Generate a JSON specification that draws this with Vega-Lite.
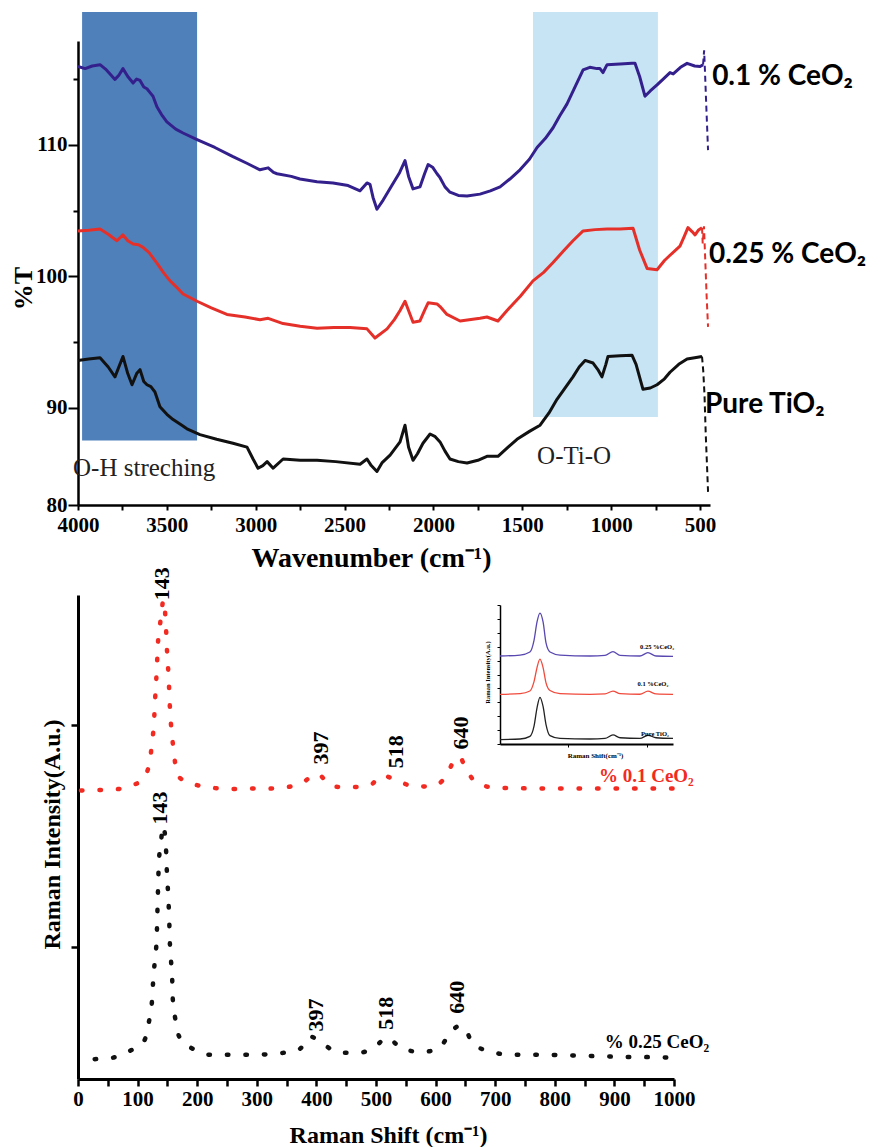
{
  "$schema": "https://vega.github.io/schema/vega-lite/v6.json",
  "padding": {"left": 10, "top": 12, "right": 0, "bottom": 0},
  "background": "white",
  "config": {
    "view": {"stroke": null},
    "axis": {"grid": false, "domainColor": "#000", "tickColor": "#000", "labelColor": "#000", "titleColor": "#000", "labelFont": "Liberation Serif", "titleFont": "Liberation Serif", "labelFontWeight": "bold", "titleFontWeight": "bold", "labelOverlap": false, "labelFlush": false},
    "text": {"font": "Liberation Serif"}
  },
  "datasets": {
    "bands": [
      {"x": 3977, "x2": 3330, "y": 87.5, "y2": 120.1, "band": "OH"},
      {"x": 1440, "x2": 737, "y": 89.3, "y2": 120.1, "band": "OTiO"}
    ],
    "ftir": [
      {"s": "0.1", "x": 4000, "y": 115.96}, {"s": "0.1", "x": 3960, "y": 115.8}, {"s": "0.1", "x": 3920, "y": 116.0}, {"s": "0.1", "x": 3876, "y": 116.1}, {"s": "0.1", "x": 3840, "y": 115.7}, {"s": "0.1", "x": 3792, "y": 114.98}, {"s": "0.1", "x": 3770, "y": 115.3}, {"s": "0.1", "x": 3747, "y": 115.8}, {"s": "0.1", "x": 3720, "y": 115.2}, {"s": "0.1", "x": 3690, "y": 114.7}, {"s": "0.1", "x": 3670, "y": 115.0}, {"s": "0.1", "x": 3651, "y": 114.9}, {"s": "0.1", "x": 3630, "y": 114.4}, {"s": "0.1", "x": 3612, "y": 114.27}, {"s": "0.1", "x": 3590, "y": 113.9}, {"s": "0.1", "x": 3578, "y": 113.7}, {"s": "0.1", "x": 3556, "y": 112.9}, {"s": "0.1", "x": 3530, "y": 112.3}, {"s": "0.1", "x": 3500, "y": 111.75}, {"s": "0.1", "x": 3450, "y": 111.2}, {"s": "0.1", "x": 3409, "y": 110.9}, {"s": "0.1", "x": 3330, "y": 110.4}, {"s": "0.1", "x": 3230, "y": 109.8}, {"s": "0.1", "x": 3128, "y": 109.1}, {"s": "0.1", "x": 3050, "y": 108.6}, {"s": "0.1", "x": 2976, "y": 108.1}, {"s": "0.1", "x": 2930, "y": 108.25}, {"s": "0.1", "x": 2900, "y": 107.9}, {"s": "0.1", "x": 2880, "y": 107.8}, {"s": "0.1", "x": 2800, "y": 107.6}, {"s": "0.1", "x": 2751, "y": 107.4}, {"s": "0.1", "x": 2655, "y": 107.2}, {"s": "0.1", "x": 2565, "y": 107.1}, {"s": "0.1", "x": 2480, "y": 106.9}, {"s": "0.1", "x": 2413, "y": 106.5}, {"s": "0.1", "x": 2374, "y": 107.1}, {"s": "0.1", "x": 2357, "y": 107.0}, {"s": "0.1", "x": 2340, "y": 106.0}, {"s": "0.1", "x": 2318, "y": 105.1}, {"s": "0.1", "x": 2283, "y": 105.8}, {"s": "0.1", "x": 2230, "y": 107.0}, {"s": "0.1", "x": 2190, "y": 107.9}, {"s": "0.1", "x": 2160, "y": 108.8}, {"s": "0.1", "x": 2140, "y": 107.6}, {"s": "0.1", "x": 2115, "y": 106.65}, {"s": "0.1", "x": 2076, "y": 106.8}, {"s": "0.1", "x": 2050, "y": 107.8}, {"s": "0.1", "x": 2030, "y": 108.5}, {"s": "0.1", "x": 2005, "y": 108.3}, {"s": "0.1", "x": 1980, "y": 107.8}, {"s": "0.1", "x": 1963, "y": 107.5}, {"s": "0.1", "x": 1935, "y": 106.8}, {"s": "0.1", "x": 1907, "y": 106.4}, {"s": "0.1", "x": 1860, "y": 106.15}, {"s": "0.1", "x": 1811, "y": 106.1}, {"s": "0.1", "x": 1738, "y": 106.25}, {"s": "0.1", "x": 1680, "y": 106.5}, {"s": "0.1", "x": 1625, "y": 106.8}, {"s": "0.1", "x": 1570, "y": 107.4}, {"s": "0.1", "x": 1513, "y": 108.1}, {"s": "0.1", "x": 1460, "y": 108.9}, {"s": "0.1", "x": 1417, "y": 109.8}, {"s": "0.1", "x": 1370, "y": 110.5}, {"s": "0.1", "x": 1327, "y": 111.3}, {"s": "0.1", "x": 1290, "y": 112.2}, {"s": "0.1", "x": 1249, "y": 113.1}, {"s": "0.1", "x": 1200, "y": 114.5}, {"s": "0.1", "x": 1158, "y": 115.7}, {"s": "0.1", "x": 1120, "y": 115.9}, {"s": "0.1", "x": 1080, "y": 115.8}, {"s": "0.1", "x": 1063, "y": 115.8}, {"s": "0.1", "x": 1046, "y": 115.5}, {"s": "0.1", "x": 1023, "y": 116.1}, {"s": "0.1", "x": 950, "y": 116.15}, {"s": "0.1", "x": 883, "y": 116.2}, {"s": "0.1", "x": 866, "y": 116.2}, {"s": "0.1", "x": 840, "y": 115.2}, {"s": "0.1", "x": 810, "y": 113.7}, {"s": "0.1", "x": 780, "y": 114.1}, {"s": "0.1", "x": 742, "y": 114.56}, {"s": "0.1", "x": 700, "y": 115.1}, {"s": "0.1", "x": 669, "y": 115.5}, {"s": "0.1", "x": 651, "y": 115.4}, {"s": "0.1", "x": 610, "y": 115.9}, {"s": "0.1", "x": 573, "y": 116.2}, {"s": "0.1", "x": 530, "y": 116.0}, {"s": "0.1", "x": 500, "y": 115.96}, {"s": "0.1", "x": 483, "y": 116.1},
      {"s": "0.25", "x": 4000, "y": 103.45}, {"s": "0.25", "x": 3940, "y": 103.5}, {"s": "0.25", "x": 3876, "y": 103.6}, {"s": "0.25", "x": 3830, "y": 103.2}, {"s": "0.25", "x": 3781, "y": 102.7}, {"s": "0.25", "x": 3747, "y": 103.15}, {"s": "0.25", "x": 3720, "y": 102.7}, {"s": "0.25", "x": 3690, "y": 102.45}, {"s": "0.25", "x": 3660, "y": 102.4}, {"s": "0.25", "x": 3634, "y": 102.2}, {"s": "0.25", "x": 3600, "y": 101.8}, {"s": "0.25", "x": 3556, "y": 101.0}, {"s": "0.25", "x": 3520, "y": 100.3}, {"s": "0.25", "x": 3482, "y": 99.65}, {"s": "0.25", "x": 3440, "y": 99.1}, {"s": "0.25", "x": 3409, "y": 98.65}, {"s": "0.25", "x": 3330, "y": 98.1}, {"s": "0.25", "x": 3250, "y": 97.6}, {"s": "0.25", "x": 3162, "y": 97.1}, {"s": "0.25", "x": 3060, "y": 96.9}, {"s": "0.25", "x": 2976, "y": 96.7}, {"s": "0.25", "x": 2930, "y": 96.8}, {"s": "0.25", "x": 2846, "y": 96.4}, {"s": "0.25", "x": 2750, "y": 96.2}, {"s": "0.25", "x": 2655, "y": 96.05}, {"s": "0.25", "x": 2560, "y": 96.1}, {"s": "0.25", "x": 2469, "y": 96.1}, {"s": "0.25", "x": 2374, "y": 96.0}, {"s": "0.25", "x": 2329, "y": 95.3}, {"s": "0.25", "x": 2261, "y": 96.0}, {"s": "0.25", "x": 2220, "y": 96.7}, {"s": "0.25", "x": 2188, "y": 97.4}, {"s": "0.25", "x": 2160, "y": 98.1}, {"s": "0.25", "x": 2115, "y": 96.5}, {"s": "0.25", "x": 2076, "y": 96.6}, {"s": "0.25", "x": 2050, "y": 97.4}, {"s": "0.25", "x": 2030, "y": 97.98}, {"s": "0.25", "x": 1980, "y": 97.9}, {"s": "0.25", "x": 1963, "y": 97.7}, {"s": "0.25", "x": 1924, "y": 97.1}, {"s": "0.25", "x": 1850, "y": 96.6}, {"s": "0.25", "x": 1738, "y": 96.8}, {"s": "0.25", "x": 1699, "y": 96.9}, {"s": "0.25", "x": 1637, "y": 96.6}, {"s": "0.25", "x": 1586, "y": 97.4}, {"s": "0.25", "x": 1510, "y": 98.5}, {"s": "0.25", "x": 1440, "y": 99.65}, {"s": "0.25", "x": 1380, "y": 100.3}, {"s": "0.25", "x": 1327, "y": 101.05}, {"s": "0.25", "x": 1270, "y": 101.9}, {"s": "0.25", "x": 1215, "y": 102.7}, {"s": "0.25", "x": 1158, "y": 103.45}, {"s": "0.25", "x": 1090, "y": 103.55}, {"s": "0.25", "x": 1023, "y": 103.6}, {"s": "0.25", "x": 950, "y": 103.6}, {"s": "0.25", "x": 877, "y": 103.65}, {"s": "0.25", "x": 840, "y": 102.0}, {"s": "0.25", "x": 798, "y": 100.6}, {"s": "0.25", "x": 742, "y": 100.5}, {"s": "0.25", "x": 700, "y": 101.2}, {"s": "0.25", "x": 669, "y": 101.6}, {"s": "0.25", "x": 613, "y": 102.3}, {"s": "0.25", "x": 590, "y": 103.0}, {"s": "0.25", "x": 568, "y": 103.7}, {"s": "0.25", "x": 545, "y": 103.4}, {"s": "0.25", "x": 528, "y": 103.15}, {"s": "0.25", "x": 510, "y": 103.5}, {"s": "0.25", "x": 489, "y": 103.7},
      {"s": "pure", "x": 4000, "y": 93.6}, {"s": "pure", "x": 3940, "y": 93.7}, {"s": "pure", "x": 3876, "y": 93.8}, {"s": "pure", "x": 3830, "y": 93.1}, {"s": "pure", "x": 3792, "y": 92.35}, {"s": "pure", "x": 3747, "y": 93.9}, {"s": "pure", "x": 3720, "y": 92.6}, {"s": "pure", "x": 3696, "y": 91.75}, {"s": "pure", "x": 3670, "y": 92.6}, {"s": "pure", "x": 3651, "y": 92.9}, {"s": "pure", "x": 3630, "y": 92.0}, {"s": "pure", "x": 3612, "y": 91.75}, {"s": "pure", "x": 3590, "y": 91.6}, {"s": "pure", "x": 3567, "y": 91.2}, {"s": "pure", "x": 3539, "y": 90.08}, {"s": "pure", "x": 3500, "y": 89.5}, {"s": "pure", "x": 3465, "y": 89.1}, {"s": "pure", "x": 3420, "y": 88.7}, {"s": "pure", "x": 3387, "y": 88.4}, {"s": "pure", "x": 3314, "y": 87.95}, {"s": "pure", "x": 3220, "y": 87.6}, {"s": "pure", "x": 3128, "y": 87.3}, {"s": "pure", "x": 3049, "y": 87.0}, {"s": "pure", "x": 3015, "y": 86.1}, {"s": "pure", "x": 2987, "y": 85.4}, {"s": "pure", "x": 2960, "y": 85.6}, {"s": "pure", "x": 2936, "y": 85.9}, {"s": "pure", "x": 2902, "y": 85.4}, {"s": "pure", "x": 2846, "y": 86.1}, {"s": "pure", "x": 2750, "y": 86.0}, {"s": "pure", "x": 2655, "y": 86.0}, {"s": "pure", "x": 2550, "y": 85.9}, {"s": "pure", "x": 2413, "y": 85.7}, {"s": "pure", "x": 2374, "y": 86.1}, {"s": "pure", "x": 2350, "y": 85.6}, {"s": "pure", "x": 2318, "y": 85.15}, {"s": "pure", "x": 2290, "y": 85.8}, {"s": "pure", "x": 2244, "y": 86.4}, {"s": "pure", "x": 2188, "y": 87.4}, {"s": "pure", "x": 2160, "y": 88.67}, {"s": "pure", "x": 2140, "y": 87.0}, {"s": "pure", "x": 2115, "y": 86.0}, {"s": "pure", "x": 2090, "y": 86.5}, {"s": "pure", "x": 2059, "y": 87.3}, {"s": "pure", "x": 2019, "y": 88.0}, {"s": "pure", "x": 1990, "y": 87.8}, {"s": "pure", "x": 1963, "y": 87.4}, {"s": "pure", "x": 1935, "y": 86.7}, {"s": "pure", "x": 1907, "y": 86.1}, {"s": "pure", "x": 1860, "y": 85.9}, {"s": "pure", "x": 1811, "y": 85.8}, {"s": "pure", "x": 1750, "y": 86.0}, {"s": "pure", "x": 1699, "y": 86.3}, {"s": "pure", "x": 1637, "y": 86.3}, {"s": "pure", "x": 1580, "y": 87.0}, {"s": "pure", "x": 1530, "y": 87.6}, {"s": "pure", "x": 1460, "y": 88.2}, {"s": "pure", "x": 1400, "y": 88.67}, {"s": "pure", "x": 1350, "y": 89.6}, {"s": "pure", "x": 1305, "y": 90.64}, {"s": "pure", "x": 1260, "y": 91.5}, {"s": "pure", "x": 1215, "y": 92.35}, {"s": "pure", "x": 1180, "y": 93.1}, {"s": "pure", "x": 1147, "y": 93.6}, {"s": "pure", "x": 1102, "y": 93.4}, {"s": "pure", "x": 1075, "y": 92.9}, {"s": "pure", "x": 1052, "y": 92.35}, {"s": "pure", "x": 1030, "y": 93.3}, {"s": "pure", "x": 1018, "y": 93.9}, {"s": "pure", "x": 950, "y": 93.95}, {"s": "pure", "x": 883, "y": 94.0}, {"s": "pure", "x": 860, "y": 93.3}, {"s": "pure", "x": 821, "y": 91.4}, {"s": "pure", "x": 780, "y": 91.5}, {"s": "pure", "x": 742, "y": 91.75}, {"s": "pure", "x": 700, "y": 92.2}, {"s": "pure", "x": 669, "y": 92.7}, {"s": "pure", "x": 620, "y": 93.3}, {"s": "pure", "x": 573, "y": 93.7}, {"s": "pure", "x": 530, "y": 93.8}, {"s": "pure", "x": 489, "y": 93.9}
    ],
    "ftirEnd": [
      {"s": "0.1", "x": 483, "y": 116.1}, {"s": "0.1", "x": 477, "y": 117.2}, {"s": "0.1", "x": 472, "y": 115.5}, {"s": "0.1", "x": 465, "y": 113.0}, {"s": "0.1", "x": 455, "y": 109.6},
      {"s": "0.25", "x": 489, "y": 103.7}, {"s": "0.25", "x": 485, "y": 102.5}, {"s": "0.25", "x": 478, "y": 103.8}, {"s": "0.25", "x": 470, "y": 101.0}, {"s": "0.25", "x": 463, "y": 98.5}, {"s": "0.25", "x": 455, "y": 96.15},
      {"s": "pure", "x": 489, "y": 93.9}, {"s": "pure", "x": 482, "y": 92.8}, {"s": "pure", "x": 475, "y": 91.0}, {"s": "pure", "x": 468, "y": 88.0}, {"s": "pure", "x": 462, "y": 86.0}, {"s": "pure", "x": 455, "y": 83.6}
    ],
    "ftirLabels": [
      {"x": 432, "y": 115.17, "t": "0.1 % CeO₂", "kind": "series"},
      {"x": 449, "y": 101.6, "t": "0.25 % CeO₂", "kind": "series"},
      {"x": 472, "y": 90.2, "t": "Pure TiO₂", "kind": "series"},
      {"x": 4028, "y": 85.4, "t": "O-H streching", "kind": "band"},
      {"x": 1417, "y": 86.35, "t": "O-Ti-O", "kind": "band"}
    ],
    "raman": [
      {"s": "0.1", "x": 5, "y": 59.6}, {"s": "0.1", "x": 28, "y": 59.7}, {"s": "0.1", "x": 58, "y": 59.8}, {"s": "0.1", "x": 87, "y": 60.5}, {"s": "0.1", "x": 109, "y": 62.0}, {"s": "0.1", "x": 121, "y": 65.9}, {"s": "0.1", "x": 124, "y": 69.6}, {"s": "0.1", "x": 127.5, "y": 73.6}, {"s": "0.1", "x": 129, "y": 77.7}, {"s": "0.1", "x": 131, "y": 81.8}, {"s": "0.1", "x": 132.5, "y": 85.5}, {"s": "0.1", "x": 134, "y": 89.7}, {"s": "0.1", "x": 137.6, "y": 93.8}, {"s": "0.1", "x": 141, "y": 97.3}, {"s": "0.1", "x": 143, "y": 99.0}, {"s": "0.1", "x": 147.6, "y": 93.4}, {"s": "0.1", "x": 149, "y": 89.3}, {"s": "0.1", "x": 151, "y": 85.3}, {"s": "0.1", "x": 152.7, "y": 81.2}, {"s": "0.1", "x": 154, "y": 77.3}, {"s": "0.1", "x": 156, "y": 73.3}, {"s": "0.1", "x": 159, "y": 69.4}, {"s": "0.1", "x": 163, "y": 65.3}, {"s": "0.1", "x": 171, "y": 62.2}, {"s": "0.1", "x": 200, "y": 60.7}, {"s": "0.1", "x": 230, "y": 60.1}, {"s": "0.1", "x": 260, "y": 59.9}, {"s": "0.1", "x": 289, "y": 60.0}, {"s": "0.1", "x": 319, "y": 60.0}, {"s": "0.1", "x": 350, "y": 60.3}, {"s": "0.1", "x": 376, "y": 61.2}, {"s": "0.1", "x": 401, "y": 63.0}, {"s": "0.1", "x": 428, "y": 60.4}, {"s": "0.1", "x": 459, "y": 60.3}, {"s": "0.1", "x": 490, "y": 60.7}, {"s": "0.1", "x": 510, "y": 62.7}, {"s": "0.1", "x": 537, "y": 61.6}, {"s": "0.1", "x": 565, "y": 60.4}, {"s": "0.1", "x": 596, "y": 60.6}, {"s": "0.1", "x": 616, "y": 62.3}, {"s": "0.1", "x": 630, "y": 65.5}, {"s": "0.1", "x": 640, "y": 66.6}, {"s": "0.1", "x": 650, "y": 64.3}, {"s": "0.1", "x": 669, "y": 61.2}, {"s": "0.1", "x": 700, "y": 60.2}, {"s": "0.1", "x": 730, "y": 60.1}, {"s": "0.1", "x": 789, "y": 60.0}, {"s": "0.1", "x": 850, "y": 60.0}, {"s": "0.1", "x": 913, "y": 60.0}, {"s": "0.1", "x": 973, "y": 60.0}, {"s": "0.1", "x": 1000, "y": 60.0},
      {"s": "0.25", "x": 28, "y": 4.1}, {"s": "0.25", "x": 58, "y": 4.4}, {"s": "0.25", "x": 87, "y": 5.8}, {"s": "0.25", "x": 111, "y": 7.9}, {"s": "0.25", "x": 119, "y": 11.8}, {"s": "0.25", "x": 124, "y": 15.9}, {"s": "0.25", "x": 126, "y": 20.0}, {"s": "0.25", "x": 129, "y": 24.6}, {"s": "0.25", "x": 132, "y": 28.9}, {"s": "0.25", "x": 133, "y": 33.5}, {"s": "0.25", "x": 134, "y": 38.0}, {"s": "0.25", "x": 135, "y": 42.5}, {"s": "0.25", "x": 137, "y": 47.0}, {"s": "0.25", "x": 139, "y": 48.1}, {"s": "0.25", "x": 141, "y": 51.4}, {"s": "0.25", "x": 143, "y": 52.3}, {"s": "0.25", "x": 147.6, "y": 47.7}, {"s": "0.25", "x": 149, "y": 43.2}, {"s": "0.25", "x": 151, "y": 38.7}, {"s": "0.25", "x": 153, "y": 33.1}, {"s": "0.25", "x": 154, "y": 28.6}, {"s": "0.25", "x": 156, "y": 24.6}, {"s": "0.25", "x": 158, "y": 20.8}, {"s": "0.25", "x": 159, "y": 16.6}, {"s": "0.25", "x": 163, "y": 12.6}, {"s": "0.25", "x": 170, "y": 8.7}, {"s": "0.25", "x": 193, "y": 6.2}, {"s": "0.25", "x": 224, "y": 5.0}, {"s": "0.25", "x": 255, "y": 5.0}, {"s": "0.25", "x": 286, "y": 5.0}, {"s": "0.25", "x": 317, "y": 5.1}, {"s": "0.25", "x": 344, "y": 5.4}, {"s": "0.25", "x": 372, "y": 6.2}, {"s": "0.25", "x": 389, "y": 8.8}, {"s": "0.25", "x": 411, "y": 7.2}, {"s": "0.25", "x": 440, "y": 5.4}, {"s": "0.25", "x": 470, "y": 5.4}, {"s": "0.25", "x": 498, "y": 6.6}, {"s": "0.25", "x": 518, "y": 8.5}, {"s": "0.25", "x": 545, "y": 6.2}, {"s": "0.25", "x": 577, "y": 5.6}, {"s": "0.25", "x": 604, "y": 6.2}, {"s": "0.25", "x": 627, "y": 9.9}, {"s": "0.25", "x": 640, "y": 11.0}, {"s": "0.25", "x": 651, "y": 10.0}, {"s": "0.25", "x": 663, "y": 7.2}, {"s": "0.25", "x": 695, "y": 5.6}, {"s": "0.25", "x": 725, "y": 5.0}, {"s": "0.25", "x": 786, "y": 5.0}, {"s": "0.25", "x": 845, "y": 4.8}, {"s": "0.25", "x": 906, "y": 4.6}, {"s": "0.25", "x": 965, "y": 4.5}, {"s": "0.25", "x": 997, "y": 4.4}
    ],
    "ramanText": [
      {"x": 141, "y": 102.3, "t": "143", "kind": "peak"},
      {"x": 407, "y": 68.4, "t": "397", "kind": "peak"},
      {"x": 533.6, "y": 67.6, "t": "518", "kind": "peak"},
      {"x": 642.6, "y": 71.5, "t": "640", "kind": "peak"},
      {"x": 137.6, "y": 56.0, "t": "143", "kind": "peak"},
      {"x": 399, "y": 13.2, "t": "397", "kind": "peak"},
      {"x": 516.8, "y": 13.6, "t": "518", "kind": "peak"},
      {"x": 636.7, "y": 16.9, "t": "640", "kind": "peak"},
      {"x": 874, "y": 62.6, "t": "% 0.1 CeO₂", "kind": "s01"},
      {"x": 884, "y": 7.6, "t": "% 0.25 CeO₂", "kind": "s025"}
    ],
    "inset": [
      {"s": "0.25", "x": 0, "y": 63.3}, {"s": "0.25", "x": 11.6, "y": 64.0}, {"s": "0.25", "x": 17.3, "y": 66.2}, {"s": "0.25", "x": 19.7, "y": 74.8}, {"s": "0.25", "x": 21.4, "y": 87.8}, {"s": "0.25", "x": 23.1, "y": 94.2}, {"s": "0.25", "x": 24.9, "y": 87.8}, {"s": "0.25", "x": 26.6, "y": 72.7}, {"s": "0.25", "x": 28.9, "y": 66.2}, {"s": "0.25", "x": 34.7, "y": 64.0}, {"s": "0.25", "x": 52, "y": 63.3}, {"s": "0.25", "x": 60.7, "y": 63.7}, {"s": "0.25", "x": 65.3, "y": 66.4}, {"s": "0.25", "x": 69.4, "y": 63.7}, {"s": "0.25", "x": 80.9, "y": 63.3}, {"s": "0.25", "x": 85.5, "y": 65.7}, {"s": "0.25", "x": 90.2, "y": 63.3}, {"s": "0.25", "x": 100, "y": 63.1},
      {"s": "0.1", "x": 0, "y": 35.7}, {"s": "0.1", "x": 11.6, "y": 36.2}, {"s": "0.1", "x": 17.3, "y": 38.1}, {"s": "0.1", "x": 19.7, "y": 45}, {"s": "0.1", "x": 21.4, "y": 55}, {"s": "0.1", "x": 23.1, "y": 61}, {"s": "0.1", "x": 24.9, "y": 55}, {"s": "0.1", "x": 26.6, "y": 44}, {"s": "0.1", "x": 28.9, "y": 38.5}, {"s": "0.1", "x": 34.7, "y": 36.2}, {"s": "0.1", "x": 52, "y": 35.7}, {"s": "0.1", "x": 60.7, "y": 36}, {"s": "0.1", "x": 65.3, "y": 38.1}, {"s": "0.1", "x": 69.4, "y": 36.2}, {"s": "0.1", "x": 80.9, "y": 35.8}, {"s": "0.1", "x": 85.5, "y": 38}, {"s": "0.1", "x": 90.2, "y": 36}, {"s": "0.1", "x": 100, "y": 35.7},
      {"s": "pure", "x": 0, "y": 3.2}, {"s": "pure", "x": 11.6, "y": 3.6}, {"s": "pure", "x": 17.3, "y": 5.5}, {"s": "pure", "x": 19.7, "y": 13}, {"s": "pure", "x": 21.4, "y": 26}, {"s": "pure", "x": 23.1, "y": 33.6}, {"s": "pure", "x": 24.9, "y": 27}, {"s": "pure", "x": 26.6, "y": 14}, {"s": "pure", "x": 28.9, "y": 6}, {"s": "pure", "x": 34.7, "y": 4}, {"s": "pure", "x": 52, "y": 3.6}, {"s": "pure", "x": 60.7, "y": 4}, {"s": "pure", "x": 65.3, "y": 6.5}, {"s": "pure", "x": 69.4, "y": 4.5}, {"s": "pure", "x": 80.9, "y": 4}, {"s": "pure", "x": 85.5, "y": 6.3}, {"s": "pure", "x": 90.2, "y": 4.5}, {"s": "pure", "x": 100, "y": 4}
    ],
    "insetLabels": [
      {"x": 90.8, "y": 69.8, "t": "0.25 %CeO₂"},
      {"x": 88.4, "y": 43.2, "t": "0.1 %CeO₂"},
      {"x": 89.6, "y": 7.5, "t": "Pure TiO₂"}
    ]
  },
  "bounds": "flush",
  "spacing": 90,
  "vconcat": [
    {
      "width": 632,
      "height": 464,
      "encoding": {
        "x": {"field": "x", "type": "quantitative", "scale": {"domain": [4000, 444], "nice": false, "zero": false},
          "axis": {"title": "Wavenumber (cm⁻¹)", "values": [4000, 3750, 3500, 3250, 3000, 2750, 2500, 2250, 2000, 1750, 1500, 1250, 1000, 750, 500], "format": "d", "labelExpr": "datum.value % 500 == 0 ? datum.label : ''", "labelFontSize": 21, "labelFontWeight": "bold", "labelPadding": 4, "tickSize": 5, "tickWidth": 2, "domainWidth": 2.5, "titleFontSize": 28, "titleX": 293, "titleY": 53, "titleBaseline": "middle", "titleAlign": "center"}},
        "y": {"field": "y", "type": "quantitative", "scale": {"domain": [82.6, 117.9], "nice": false, "zero": false},
          "axis": {"title": "%T", "values": [82.6, 90, 95, 100, 105, 110, 115], "labelExpr": "datum.value < 84 ? '80' : (datum.value % 10 == 0 ? datum.label : '')", "labelFontSize": 21, "labelFontWeight": "bold", "labelPadding": 1, "tickSize": {"condition": {"test": "datum.value % 10 == 0 || datum.value < 84", "value": 10}, "value": 5}, "tickWidth": 2, "domainWidth": 2.5, "titleFontSize": 26, "titleX": -55, "titleY": 247, "titleBaseline": "middle", "titleAlign": "center", "titleAngle": 270}}
      },
      "resolve": {"scale": {"color": "independent"}},
      "layer": [
        {"data": {"name": "bands"}, "mark": {"type": "rect", "clip": false},
          "encoding": {"x2": {"field": "x2"}, "y2": {"field": "y2"}, "color": {"field": "band", "type": "nominal", "scale": {"domain": ["OH", "OTiO"], "range": ["#4f80ba", "#c7e4f4"]}, "legend": null}}},
        {"data": {"name": "ftir"}, "mark": {"type": "line", "strokeWidth": 3, "clip": false, "strokeJoin": "round"},
          "encoding": {"color": {"field": "s", "type": "nominal", "scale": {"domain": ["0.1", "0.25", "pure"], "range": ["#34208c", "#e5302a", "#111111"]}, "legend": null}}},
        {"data": {"name": "ftirEnd"}, "mark": {"type": "line", "strokeWidth": 2, "strokeDash": [6, 4], "clip": false},
          "encoding": {"color": {"field": "s", "type": "nominal", "scale": {"domain": ["0.1", "0.25", "pure"], "range": ["#34208c", "#e5302a", "#111111"]}, "legend": null}}},
        {"data": {"name": "ftirLabels"}, "transform": [{"filter": "datum.kind == 'series'"}],
          "mark": {"type": "text", "font": "Lato", "fontWeight": "bold", "fontSize": 28, "align": "left", "baseline": "middle", "color": "#000"},
          "encoding": {"text": {"field": "t"}}},
        {"data": {"name": "ftirLabels"}, "transform": [{"filter": "datum.kind == 'band'"}],
          "mark": {"type": "text", "font": "Liberation Serif", "fontSize": 25, "align": "left", "baseline": "middle", "color": "#222"},
          "encoding": {"text": {"field": "t"}}}
      ]
    },
    {
      "width": 596,
      "height": 484,
      "resolve": {"scale": {"x": "independent", "y": "independent", "color": "independent"}, "axis": {"x": "independent", "y": "independent"}},
      "layer": [
        {
          "encoding": {
            "x": {"field": "x", "type": "quantitative", "scale": {"domain": [0, 1000], "nice": false, "zero": false},
              "axis": {"title": "Raman Shift (cm⁻¹)", "values": [0, 50, 100, 150, 200, 250, 300, 350, 400, 450, 500, 550, 600, 650, 700, 750, 800, 850, 900, 950, 1000], "format": "d", "labelExpr": "datum.value % 100 == 0 ? datum.label : ''", "labelFontSize": 21, "labelFontWeight": "bold", "labelFont": "Liberation Serif", "labelPadding": 2, "tickSize": 7, "tickWidth": 2.5, "domainWidth": 3, "titleFontSize": 24, "titleX": 310, "titleY": 56, "titleBaseline": "middle", "titleAlign": "center"}},
            "y": {"field": "y", "type": "quantitative", "scale": {"domain": [0, 100], "nice": false, "zero": false},
              "axis": {"title": "Raman Intensity(A.u.)", "values": [27.3, 73.1], "labels": false, "tickSize": 7, "tickWidth": 2.5, "domainWidth": 3, "titleFontSize": 24, "titleX": -25.5, "titleY": 239, "titleBaseline": "middle", "titleAlign": "center", "titleAngle": 270}}
          },
          "layer": [
            {"data": {"name": "raman"}, "mark": {"type": "line", "interpolate": "monotone", "strokeWidth": 4.5, "strokeCap": "round", "strokeDash": [1.5, 17], "clip": false},
              "encoding": {"color": {"field": "s", "type": "nominal", "scale": {"domain": ["0.1", "0.25"], "range": ["#f22b22", "#111111"]}, "legend": null}}},
            {"data": {"name": "ramanText"}, "transform": [{"filter": "datum.kind == 'peak'"}],
              "mark": {"type": "text", "font": "Liberation Serif", "fontWeight": "bold", "fontSize": 22, "angle": 270, "align": "center", "baseline": "middle", "color": "#000"},
              "encoding": {"text": {"field": "t"}}},
            {"data": {"name": "ramanText"}, "transform": [{"filter": "datum.kind == 's01'"}],
              "mark": {"type": "text", "font": "Liberation Serif", "fontWeight": "bold", "fontSize": 19, "align": "left", "baseline": "middle", "color": "#f22b22"},
              "encoding": {"text": {"field": "t"}}},
            {"data": {"name": "ramanText"}, "transform": [{"filter": "datum.kind == 's025'"}],
              "mark": {"type": "text", "font": "Liberation Serif", "fontWeight": "bold", "fontSize": 19, "align": "left", "baseline": "middle", "color": "#000"},
              "encoding": {"text": {"field": "t"}}}
          ]
        },
        {
          "encoding": {
            "x": {"field": "x", "type": "quantitative", "scale": {"domain": [0, 100], "range": [422, 595], "nice": false, "zero": false},
              "axis": {"orient": "bottom", "offset": -335, "title": "Raman Shift(cm⁻¹)", "values": [39.3, 85], "labels": false, "tickSize": 3, "tickWidth": 1, "domainWidth": 1.8, "titleFontSize": 7, "titleX": 517, "titleY": 11, "titleBaseline": "middle", "titleAlign": "center"}},
            "y": {"field": "y", "type": "quantitative", "scale": {"domain": [0, 100], "range": [149, 10], "nice": false, "zero": false},
              "axis": {"orient": "left", "offset": -422, "title": "Raman Intensity(A.u.)", "values": [0, 10, 20, 30, 40, 50, 60, 70, 80, 90, 100], "labels": false, "tickSize": 3, "tickWidth": 1, "domainWidth": 1.5, "titleFontSize": 6.5, "titleX": -13, "titleY": 77, "titleBaseline": "middle", "titleAlign": "center", "titleAngle": 270}}
          },
          "layer": [
            {"data": {"name": "inset"}, "mark": {"type": "line", "interpolate": "monotone", "strokeWidth": 1.3},
              "encoding": {"color": {"field": "s", "type": "nominal", "scale": {"domain": ["0.25", "0.1", "pure"], "range": ["#5848b0", "#f04a3c", "#222222"]}, "legend": null}}},
            {"data": {"name": "insetLabels"}, "mark": {"type": "text", "font": "Liberation Serif", "fontWeight": "bold", "fontSize": 6.5, "align": "center", "baseline": "middle", "color": "#000"},
              "encoding": {"text": {"field": "t"}}}
          ]
        }
      ]
    }
  ]
}
